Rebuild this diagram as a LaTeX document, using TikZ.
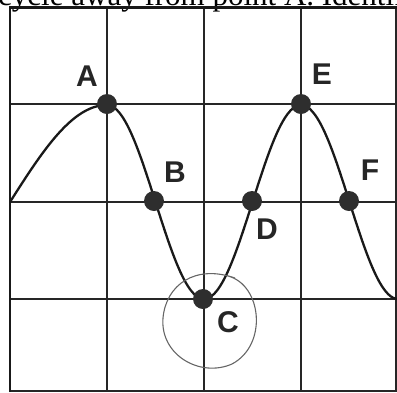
\documentclass[tikz,border=0pt]{standalone}
\usepackage{fontspec}
\setmainfont{Liberation Serif}
\newfontfamily\lblfont{Liberation Sans}
\begin{document}
\begin{tikzpicture}[x=1pt,y=-1pt,
  gridline/.style={line width=1.5pt,black!85},
  border/.style={line width=2.8pt,black!90},
  dot/.style={circle,fill=black!82,inner sep=0pt,minimum size=20pt},
  lbl/.style={font=\lblfont\bfseries\fontsize{30}{30}\selectfont,text=black!85,inner sep=0pt},
  wave/.style={line width=2.3pt,black!90},
  ring/.style={line width=1.1pt,black!60}]
\useasboundingbox (0,0) rectangle (397,392);
\clip (0,0) rectangle (397,392);
% clipped caption text at top
\node[anchor=base west,inner sep=0pt,font=\fontsize{31}{31}\selectfont] (cap) at (-2,5) {cycle away from point A. Identify};
% grid
\foreach \x in {107,204,301} \draw[gridline] (\x,8) -- (\x,392);
\foreach \y in {104,202,299} \draw[gridline] (10,\y) -- (397,\y);
\draw[gridline] (396,8) -- (396,392);
\draw[gridline] (10,391) -- (397,391);
\draw[border] (10,392) -- (10,7.5) -- (397,7.5);
% wave
\draw[wave,domain=10:107,samples=40,smooth,variable=\t] plot (\t,{202-97*sin(0.92784*(\t-10))});
\draw[wave,domain=107:398,samples=120,smooth,variable=\t] plot (\t,{202-97*cos(1.85567*(\t-107))});
% hand-drawn ring around C
\draw[ring] (228,276) .. controls (262,285) and (268,345) .. (232,364)
  .. controls (200,378) and (160,355) .. (163,318)
  .. controls (166,285) and (195,264) .. (235,278);
% points
\node[dot] (A) at (107,104) {};
\node[dot] (B) at (154,201) {};
\node[dot] (C) at (203,299) {};
\node[dot] (D) at (252,201) {};
\node[dot] (E) at (301,104) {};
\node[dot] (F) at (349,201) {};
% labels
\node[lbl] (lA) at (87,76) {A};
\node[lbl] (lB) at (175,172) {B};
\node[lbl] (lC) at (228,322) {C};
\node[lbl] (lD) at (267,229) {D};
\node[lbl] (lE) at (322,74) {E};
\node[lbl] (lF) at (370,170) {F};
\end{tikzpicture}
\end{document}
